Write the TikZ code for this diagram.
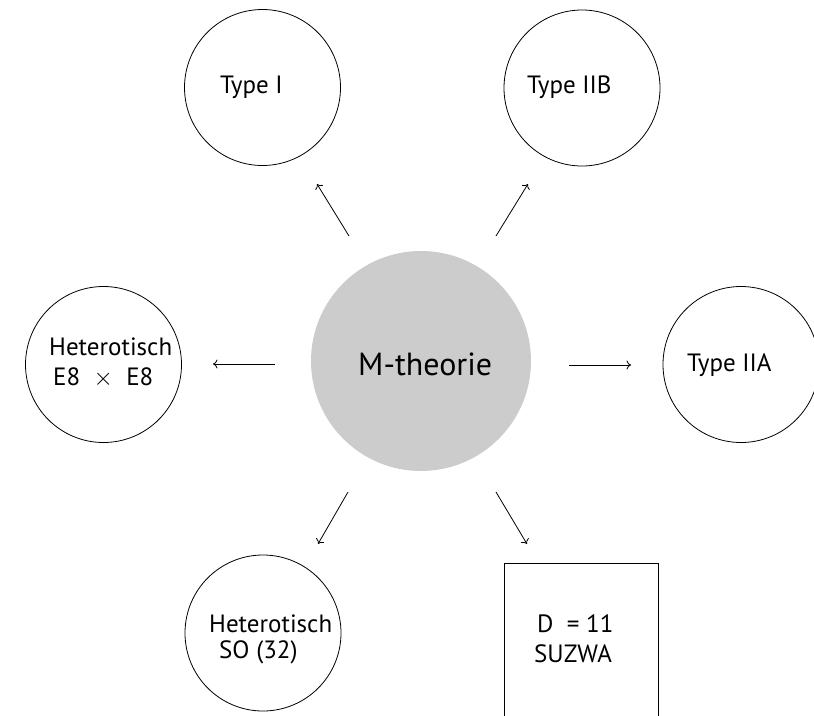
\documentclass[tikz,border=0pt]{standalone}
\usepackage{fontspec}
\setmainfont{PT Sans}
\usetikzlibrary{arrows.meta,calc}
\tikzset{
  ring/.style={draw=black, line width=0.8pt, circle, minimum size=156pt, inner sep=0pt},
  hub/.style={fill=black!20, draw=none, circle, minimum size=220pt, inner sep=0pt},
  lbl/.style={anchor=base west, inner sep=0pt, font=\fontsize{25}{30}\selectfont},
  biglbl/.style={anchor=base west, inner sep=0pt, font=\fontsize{32}{38}\selectfont},
  link/.style={line width=0.8pt, -{To[length=4.5pt,width=9pt]}},
}
\begin{document}
\begin{tikzpicture}[x=1pt,y=-1pt]
\useasboundingbox (0,0) rectangle (814,715);
\clip (0,0) rectangle (814,715);
\node[hub] (m) at (421,361) {};
\node[ring] (t1) at (262.5,87.5) {};
\node[ring] (t2b) at (582,88) {};
\node[ring] (he8) at (103.5,364.5) {};
\node[ring] (t2a) at (741,364.5) {};
\node[ring] (hso) at (263,633) {};
\node[draw=black, line width=0.8pt, anchor=north west, minimum width=154pt, minimum height=180pt, inner sep=0pt] (sugra) at (504,563) {};
% labels
\node[biglbl] (lm) at (358,375) {M-theorie};
\node[lbl] (l1) at (220,93) {Type I};
\node[lbl] (l2b) at (527,93) {Type IIB};
\node[lbl] (l2a) at (687,371) {Type IIA};
\node[lbl] (le8a) at (49,355) {Heterotisch};
\node[lbl] (le8b) at (53,385) {E8 \ $\times$ \ E8};
\node[lbl] (lsoa) at (209,632) {Heterotisch};
\node[lbl] (lsob) at (219,658) {SO (32)};
\node[lbl] (lda) at (537,632) {D \ = 11};
\node[lbl] (ldb) at (534,662) {SUZWA};
% arrow ends
\coordinate (a1s) at ($(m)+(-72,-125)$);
\coordinate (a1e) at ($(m)+(-104,-177)$);
\coordinate (a2s) at ($(m)+(75,-125)$);
\coordinate (a2e) at ($(m)+(107,-177)$);
\coordinate (a3s) at ($(m)+(-146,3)$);
\coordinate (a3e) at ($(m)+(-208,3)$);
\coordinate (a4s) at ($(m)+(148,4)$);
\coordinate (a4e) at ($(m)+(210,4)$);
\coordinate (a5s) at ($(m)+(-73,131)$);
\coordinate (a5e) at ($(m)+(-103,183)$);
\coordinate (a6s) at ($(m)+(75,131)$);
\coordinate (a6e) at ($(m)+(106,183)$);
\draw[link] (a1s) -- (a1e);
\draw[link] (a2s) -- (a2e);
\draw[link] (a3s) -- (a3e);
\draw[link] (a4s) -- (a4e);
\draw[link] (a5s) -- (a5e);
\draw[link] (a6s) -- (a6e);
\end{tikzpicture}
\end{document}
